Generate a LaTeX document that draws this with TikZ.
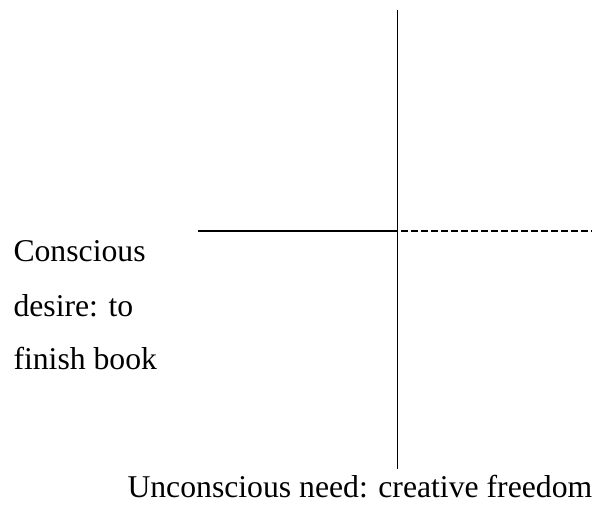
\documentclass[tikz,border=0pt]{standalone}
\usepackage{fontspec}
\setmainfont{Liberation Serif}
\begin{document}
\begin{tikzpicture}[x=1pt,y=-1pt,
  lbl/.style={anchor=base west,inner sep=0pt,outer sep=0pt,font=\fontsize{31.7}{38}\selectfont},
  axis/.style={line width=1.2pt,black},
  dashaxis/.style={line width=1.2pt,black,dash pattern=on 6.5pt off 3.5pt}]
\useasboundingbox (0,0) rectangle (592,504);
\coordinate (top) at (397.5,10);
\coordinate (bottom) at (397.5,469);
\coordinate (left) at (198,231);
\coordinate (center) at (397.5,231);
\coordinate (dstart) at (401,231);
\coordinate (right) at (592,231);
\draw[axis] (top) -- (bottom);
\draw[axis] (left) -- (center);
\draw[dashaxis] (dstart) -- (right);
\node[lbl] (c1) at (13.5,261.7) {Conscious};
\node[lbl] (c2) at (13.5,316) {desire: to};
\node[lbl] (c3) at (13.5,369.5) {finish book};
\node[lbl] (u) at (127.5,497.5) {Unconscious need: creative freedom};
\end{tikzpicture}
\end{document}
